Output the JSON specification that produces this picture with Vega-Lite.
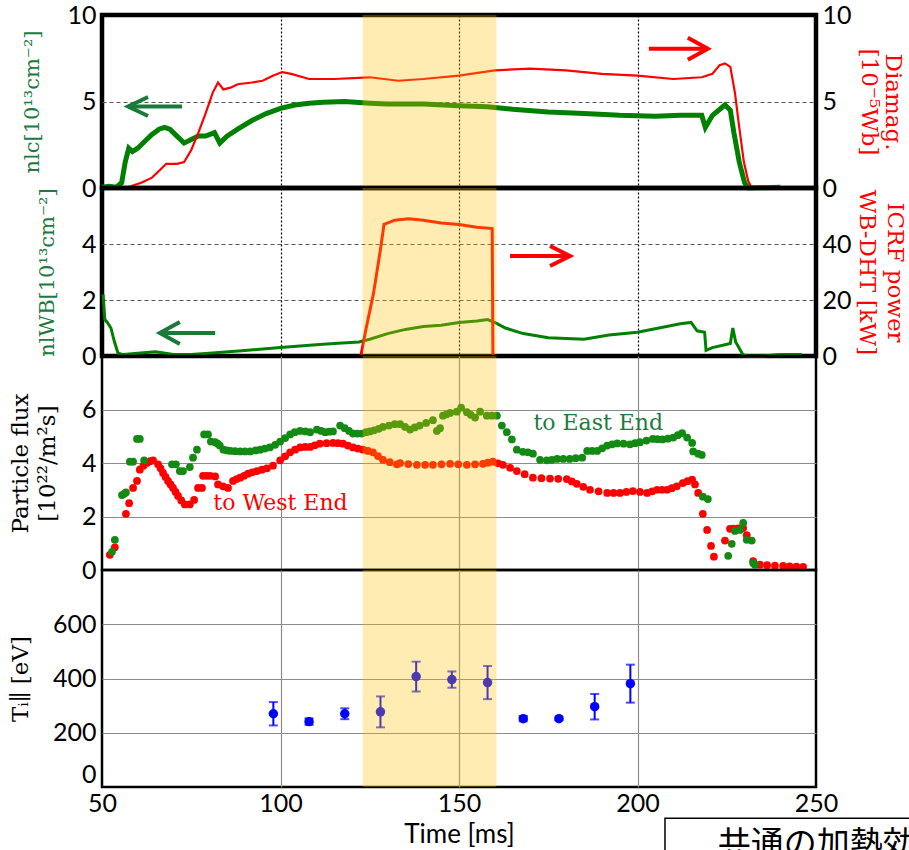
{
  "$schema": "https://vega.github.io/schema/vega-lite/v6.json",
  "padding": {"left": 8, "top": 0, "right": 0, "bottom": 0},
  "spacing": 0,
  "bounds": "flush",
  "resolve": {"scale": {"color": "independent", "shape": "independent"}},
  "config": {
    "font": "Lato",
    "view": {"stroke": null},
    "axis": {"labelFont": "Lato", "labelFontSize": 25, "labelColor": "black", "titleFont": "DejaVu Serif", "titleFontSize": 23, "titleFontWeight": "normal", "titleColor": "black", "ticks": false, "domain": false, "labelPadding": 6}
  },
  "datasets": {
    "nlc": [
      {"t":50,"v":0.05},{"t":52,"v":0.1},{"t":54,"v":0.05},{"t":55.5,"v":0.3},{"t":56.5,"v":1.5},{"t":57.5,"v":2.3},{"t":58.5,"v":2.1},{"t":60,"v":2.3},{"t":62,"v":2.7},{"t":64,"v":3.1},{"t":66,"v":3.4},{"t":67.5,"v":3.5},{"t":69,"v":3.4},{"t":71,"v":3.0},{"t":73,"v":2.6},{"t":75,"v":2.8},{"t":77,"v":3.0},{"t":79,"v":3.0},{"t":81.5,"v":3.2},{"t":83,"v":2.6},{"t":85,"v":3.0},{"t":88,"v":3.4},{"t":92,"v":3.9},{"t":96,"v":4.3},{"t":100,"v":4.6},{"t":104,"v":4.8},{"t":108,"v":4.9},{"t":112,"v":4.95},{"t":118,"v":5.0},{"t":125,"v":4.9},{"t":130,"v":4.85},{"t":140,"v":4.85},{"t":150,"v":4.75},{"t":158,"v":4.7},{"t":165,"v":4.55},{"t":175,"v":4.4},{"t":185,"v":4.3},{"t":195,"v":4.2},{"t":205,"v":4.15},{"t":212,"v":4.2},{"t":218,"v":4.2},{"t":219,"v":3.5},{"t":221,"v":4.2},{"t":224.5,"v":4.8},{"t":226,"v":4.5},{"t":227,"v":3.2},{"t":228.5,"v":1.5},{"t":230,"v":0.3},{"t":231,"v":0},{"t":240,"v":0.05}
    ],
    "diamag": [
      {"t":50,"v":0},{"t":56,"v":0},{"t":58,"v":0.1},{"t":61,"v":0.3},{"t":64,"v":0.6},{"t":66,"v":1.0},{"t":68,"v":1.4},{"t":71,"v":1.4},{"t":73,"v":1.5},{"t":75,"v":2.2},{"t":77,"v":3.2},{"t":79,"v":4.3},{"t":81,"v":5.5},{"t":82.5,"v":6.1},{"t":84,"v":5.7},{"t":86,"v":5.8},{"t":88,"v":6.0},{"t":92,"v":6.1},{"t":95,"v":6.2},{"t":98,"v":6.5},{"t":100.5,"v":6.7},{"t":103,"v":6.6},{"t":108,"v":6.3},{"t":115,"v":6.3},{"t":125,"v":6.4},{"t":133,"v":6.2},{"t":140,"v":6.3},{"t":150,"v":6.5},{"t":160,"v":6.8},{"t":170,"v":6.9},{"t":180,"v":6.8},{"t":190,"v":6.6},{"t":200,"v":6.5},{"t":210,"v":6.3},{"t":218,"v":6.4},{"t":221,"v":6.6},{"t":223,"v":7.1},{"t":224.5,"v":7.2},{"t":226,"v":7.0},{"t":227.3,"v":5.5},{"t":228.5,"v":3.5},{"t":229.8,"v":1.5},{"t":231,"v":0.4},{"t":232,"v":0},{"t":240,"v":0}
    ],
    "nlwb": [
      {"t":50.3,"v":2.2},{"t":50.8,"v":1.3},{"t":51.5,"v":1.2},{"t":52.5,"v":1.0},{"t":53.5,"v":0.5},{"t":54.5,"v":0.1},{"t":56,"v":0.05},{"t":60,"v":0.1},{"t":65,"v":0.15},{"t":70,"v":0.05},{"t":75,"v":0.05},{"t":80,"v":0.1},{"t":90,"v":0.2},{"t":100,"v":0.3},{"t":110,"v":0.4},{"t":115,"v":0.45},{"t":122,"v":0.5},{"t":125,"v":0.6},{"t":130,"v":0.8},{"t":135,"v":0.95},{"t":140,"v":1.05},{"t":145,"v":1.1},{"t":150,"v":1.2},{"t":155,"v":1.25},{"t":158,"v":1.3},{"t":160,"v":1.2},{"t":163,"v":1.0},{"t":168,"v":0.8},{"t":175,"v":0.65},{"t":185,"v":0.6},{"t":192,"v":0.75},{"t":200,"v":0.85},{"t":206,"v":1.0},{"t":212,"v":1.15},{"t":215,"v":1.2},{"t":216.7,"v":0.9},{"t":218.8,"v":0.85},{"t":219.2,"v":0.2},{"t":221,"v":0.3},{"t":226,"v":0.45},{"t":226.7,"v":1.0},{"t":227.5,"v":0.5},{"t":229.5,"v":0.05},{"t":230.5,"v":0},{"t":235,"v":0},{"t":240,"v":0.05},{"t":246,"v":0.05}
    ],
    "icrf": [
      {"t":122.5,"p":0},{"t":124,"p":10},{"t":126,"p":22},{"t":128,"p":38},{"t":129,"p":47},{"t":132,"p":48.5},{"t":136,"p":49},{"t":140,"p":48.5},{"t":145,"p":47.5},{"t":150,"p":47},{"t":155,"p":46},{"t":159.3,"p":45.5},{"t":159.5,"p":0}
    ],
    "arrows1": [
      {"x1":57.3,"x2":72.4,"y":4.71,"dir":"left"},
      {"x1":219.7,"x2":203.2,"y":8.05,"dir":"right"}
    ],
    "arrows2": [
      {"x1":66.2,"x2":81.7,"y":0.82,"dir":"left"},
      {"x1":181.1,"x2":164.3,"y":3.57,"dir":"right"}
    ],
    "east": [
      {"t":52.8,"v":0.68},{"t":53.6,"v":1.13},{"t":55.6,"v":2.8},{"t":56.2,"v":2.85},{"t":56.7,"v":2.9},{"t":57.8,"v":4.05},{"t":58.7,"v":4.05},{"t":59.8,"v":4.9},{"t":60.6,"v":4.9},{"t":61.8,"v":4.1},{"t":69.6,"v":3.95},{"t":70.7,"v":3.95},{"t":71.8,"v":3.7},{"t":72.7,"v":3.7},{"t":74.6,"v":3.85},{"t":75.5,"v":4.2},{"t":76.6,"v":4.5},{"t":78.6,"v":5.07},{"t":79.7,"v":5.07},{"t":80.5,"v":4.8},{"t":81.7,"v":4.78},{"t":82.4,"v":4.72},{"t":83,"v":4.65},{"t":84,"v":4.5},{"t":85,"v":4.47},{"t":86,"v":4.45},{"t":87.3,"v":4.44},{"t":88.7,"v":4.43},{"t":90,"v":4.43},{"t":91.5,"v":4.43},{"t":93,"v":4.47},{"t":94.3,"v":4.5},{"t":95.6,"v":4.54},{"t":97,"v":4.58},{"t":98.5,"v":4.68},{"t":99.9,"v":4.8},{"t":101.3,"v":4.93},{"t":102.7,"v":5.07},{"t":104,"v":5.15},{"t":105.5,"v":5.2},{"t":107,"v":5.18},{"t":108.3,"v":5.15},{"t":110.2,"v":5.25},{"t":111.4,"v":5.2},{"t":112.5,"v":5.15},{"t":113.6,"v":5.17},{"t":114.7,"v":5.18},{"t":116.7,"v":5.4},{"t":118,"v":5.3},{"t":119.2,"v":5.2},{"t":120.3,"v":5.1},{"t":121.5,"v":5.1},{"t":122.8,"v":5.1},{"t":124,"v":5.15},{"t":125,"v":5.18},{"t":126.2,"v":5.22},{"t":127.5,"v":5.28},{"t":128.7,"v":5.35},{"t":130.4,"v":5.4},{"t":132,"v":5.45},{"t":133.5,"v":5.45},{"t":134.9,"v":5.35},{"t":136.3,"v":5.25},{"t":137.6,"v":5.33},{"t":139,"v":5.4},{"t":140.8,"v":5.5},{"t":142.7,"v":5.6},{"t":143.8,"v":5.2},{"t":144.7,"v":5.3},{"t":145.5,"v":5.77},{"t":146.5,"v":5.82},{"t":147.5,"v":5.87},{"t":149.4,"v":5.92},{"t":150.6,"v":6.07},{"t":152.2,"v":5.9},{"t":153.3,"v":5.8},{"t":154.5,"v":5.7},{"t":155.9,"v":5.92},{"t":157.8,"v":5.77},{"t":159.2,"v":5.77},{"t":160.6,"v":5.77},{"t":162,"v":5.4},{"t":163.4,"v":5.15},{"t":164.8,"v":4.88},{"t":166.2,"v":4.5},{"t":167.9,"v":4.42},{"t":169.3,"v":4.4},{"t":170.7,"v":4.35},{"t":172.7,"v":4.12},{"t":174.6,"v":4.1},{"t":176,"v":4.12},{"t":177.5,"v":4.15},{"t":179.2,"v":4.15},{"t":181,"v":4.15},{"t":182.7,"v":4.18},{"t":184.5,"v":4.2},{"t":185.9,"v":4.45},{"t":187.3,"v":4.45},{"t":188.7,"v":4.45},{"t":190.1,"v":4.55},{"t":191.5,"v":4.65},{"t":192.9,"v":4.7},{"t":194.3,"v":4.73},{"t":196.1,"v":4.72},{"t":197.9,"v":4.7},{"t":199.3,"v":4.74},{"t":200.7,"v":4.78},{"t":202.5,"v":4.84},{"t":204.3,"v":4.9},{"t":205.6,"v":4.89},{"t":207,"v":4.88},{"t":208.5,"v":4.91},{"t":210,"v":4.95},{"t":211.3,"v":5.04},{"t":212.5,"v":5.12},{"t":213.9,"v":4.95},{"t":215.3,"v":4.75},{"t":215.6,"v":4.43},{"t":217,"v":4.35},{"t":218,"v":4.3},{"t":218.3,"v":2.74},{"t":219.7,"v":2.65},{"t":225.4,"v":0.53},{"t":226.4,"v":0.98},{"t":227.3,"v":1.46},{"t":228.7,"v":1.5},{"t":229.6,"v":1.76},{"t":230.6,"v":1.13},{"t":232,"v":1.1},{"t":232.4,"v":0.26},{"t":232.9,"v":0.2}
    ],
    "west": [
      {"t":52.2,"v":0.57},{"t":53.6,"v":0.85},{"t":56.7,"v":2.1},{"t":57.6,"v":2.5},{"t":58.7,"v":3.07},{"t":59.8,"v":3.33},{"t":60.6,"v":3.75},{"t":61.6,"v":3.9},{"t":62.6,"v":4.0},{"t":63.5,"v":4.07},{"t":64.3,"v":4.1},{"t":65.7,"v":3.95},{"t":66.4,"v":3.8},{"t":67.1,"v":3.63},{"t":67.8,"v":3.48},{"t":68.5,"v":3.33},{"t":69.2,"v":3.2},{"t":69.9,"v":3.07},{"t":70.6,"v":2.92},{"t":71.3,"v":2.77},{"t":72.2,"v":2.6},{"t":73.2,"v":2.45},{"t":74.6,"v":2.45},{"t":75.8,"v":2.62},{"t":76.9,"v":3.07},{"t":78,"v":3.07},{"t":78.3,"v":3.52},{"t":79.3,"v":3.52},{"t":80.3,"v":3.52},{"t":81.7,"v":3.5},{"t":82.5,"v":3.2},{"t":83.9,"v":3.13},{"t":85.3,"v":3.07},{"t":86.7,"v":3.33},{"t":87.7,"v":3.4},{"t":88.7,"v":3.45},{"t":89.8,"v":3.52},{"t":90.9,"v":3.6},{"t":92.1,"v":3.65},{"t":93.4,"v":3.7},{"t":94.8,"v":3.75},{"t":96.2,"v":3.8},{"t":97.9,"v":3.9},{"t":99.9,"v":4.1},{"t":101.3,"v":4.25},{"t":102.7,"v":4.4},{"t":104.1,"v":4.5},{"t":105.5,"v":4.58},{"t":106.9,"v":4.6},{"t":108.3,"v":4.6},{"t":109.6,"v":4.66},{"t":111,"v":4.72},{"t":112.9,"v":4.74},{"t":114.7,"v":4.75},{"t":116.1,"v":4.74},{"t":117.5,"v":4.72},{"t":118.9,"v":4.65},{"t":120.3,"v":4.58},{"t":121.7,"v":4.54},{"t":123.1,"v":4.5},{"t":124.5,"v":4.45},{"t":125.9,"v":4.4},{"t":127.3,"v":4.26},{"t":128.7,"v":4.12},{"t":130.6,"v":4.03},{"t":132.6,"v":3.95},{"t":133.5,"v":4.0},{"t":135.8,"v":3.96},{"t":138.2,"v":3.93},{"t":140.5,"v":3.93},{"t":142.7,"v":3.93},{"t":145.1,"v":3.95},{"t":147.5,"v":3.97},{"t":149.8,"v":3.95},{"t":152.2,"v":3.93},{"t":154.5,"v":3.95},{"t":156.7,"v":3.97},{"t":158.1,"v":4.01},{"t":159.5,"v":4.05},{"t":160.9,"v":3.99},{"t":162.3,"v":3.93},{"t":164.3,"v":3.82},{"t":166.2,"v":3.7},{"t":168.4,"v":3.58},{"t":170.7,"v":3.45},{"t":173.1,"v":3.43},{"t":175.5,"v":3.42},{"t":177.8,"v":3.41},{"t":180.2,"v":3.4},{"t":181.6,"v":3.31},{"t":183,"v":3.22},{"t":184.8,"v":3.11},{"t":186.7,"v":3.0},{"t":189.1,"v":2.94},{"t":191.5,"v":2.88},{"t":193.3,"v":2.88},{"t":195.1,"v":2.88},{"t":196.9,"v":2.92},{"t":198.7,"v":2.95},{"t":200.7,"v":2.92},{"t":202.7,"v":2.88},{"t":204.1,"v":2.94},{"t":205.5,"v":3.0},{"t":206.9,"v":3.0},{"t":208.3,"v":3.0},{"t":209.6,"v":3.06},{"t":211,"v":3.13},{"t":212.7,"v":3.25},{"t":214,"v":3.32},{"t":215.3,"v":3.38},{"t":216.1,"v":3.2},{"t":217,"v":2.88},{"t":218.3,"v":2.1},{"t":219.5,"v":1.5},{"t":220.6,"v":0.9},{"t":221.4,"v":0.5},{"t":224.5,"v":1.1},{"t":225.9,"v":1.54},{"t":226.8,"v":1.55},{"t":228.2,"v":1.56},{"t":229.6,"v":1.57},{"t":230.6,"v":1.3},{"t":232.4,"v":0.33},{"t":234.3,"v":0.2},{"t":236.3,"v":0.18},{"t":238.5,"v":0.16},{"t":240.8,"v":0.15},{"t":242.6,"v":0.14},{"t":244.5,"v":0.13},{"t":246.4,"v":0.12}
    ],
    "flabels": [
      {"t":100,"v":2.5,"label":"to West End","end":"West"},
      {"t":189,"v":5.5,"label":"to East End","end":"East"}
    ],
    "ti": [
      {"t":98,"ti":270,"lo":227,"hi":313},
      {"t":108,"ti":241,"lo":229,"hi":253},
      {"t":118,"ti":270,"lo":250,"hi":290},
      {"t":128,"ti":277,"lo":220,"hi":334},
      {"t":138,"ti":407,"lo":352,"hi":462},
      {"t":148,"ti":396,"lo":366,"hi":426},
      {"t":158,"ti":385,"lo":324,"hi":446},
      {"t":168,"ti":252,"lo":242,"hi":262},
      {"t":178,"ti":252,"lo":247,"hi":257},
      {"t":188,"ti":296,"lo":249,"hi":343},
      {"t":198,"ti":381,"lo":311,"hi":451}
    ],
    "band": [{"start":123,"end":160.5}],
    "note": [{"x1":207.7,"x2":300,"y1":-115,"y2":-320,"tx":222.5,"ty":-154,"text":"共通の加熱効果"}]
  },
  "vconcat": [
    {
      "width": 714, "height": 173,
      "view": {"stroke": "black", "strokeWidth": 4.5},
      "resolve": {"scale": {"y": "independent"}},
      "layer": [
        {
          "data": {"name": "nlc"},
          "mark": {"type": "line", "color": "#008000", "strokeWidth": 5},
          "encoding": {
            "x": {"field": "t", "type": "quantitative", "scale": {"domain": [50, 250], "nice": false},
              "axis": {"values": [100, 150, 200], "labels": false, "title": null, "grid": true, "gridColor": "black", "gridDash": [2, 2], "gridWidth": 1.2, "maxExtent": 0, "minExtent": 0}},
            "y": {"field": "v", "type": "quantitative", "scale": {"domain": [0, 10], "nice": false},
              "axis": {"values": [0, 5, 10], "title": "nlc[10¹³cm⁻²]", "titleFontSize": 21, "titleColor": "#207A40", "titlePadding": 24, "grid": true, "gridColor": "#555555", "gridDash": [4, 3], "gridWidth": 1,
                "gridOpacity": {"condition": {"test": "datum.value > 0 && datum.value < 10", "value": 1}, "value": 0}}}
          }
        },
        {
          "data": {"name": "diamag"},
          "mark": {"type": "line", "color": "#FF0000", "strokeWidth": 2.2},
          "encoding": {
            "x": {"field": "t", "type": "quantitative", "scale": {"domain": [50, 250], "nice": false}},
            "y": {"field": "v", "type": "quantitative", "scale": {"domain": [0, 10], "nice": false},
              "axis": {"orient": "right", "values": [0, 5, 10], "title": ["Diamag.", "[10⁻⁵Wb]"], "titleColor": "#FF0000", "titleAngle": 90, "titlePadding": 5, "titleLineHeight": 24, "grid": false}}
          }
        },
        {
          "data": {"name": "arrows1"},
          "mark": {"type": "rule", "strokeWidth": 4},
          "encoding": {
            "x": {"field": "x1", "type": "quantitative", "scale": {"domain": [50, 250], "nice": false}},
            "x2": {"field": "x2"},
            "y": {"field": "y", "type": "quantitative", "scale": {"domain": [0, 10], "nice": false}, "axis": null},
            "color": {"field": "dir", "type": "nominal", "scale": {"domain": ["left", "right"], "range": ["#1A7A3A", "#FF0000"]}, "legend": null}
          }
        },
        {
          "data": {"name": "arrows1"},
          "mark": {"type": "point", "filled": false, "strokeWidth": 4, "size": 400, "opacity": 1},
          "encoding": {
            "x": {"field": "x1", "type": "quantitative", "scale": {"domain": [50, 250], "nice": false}},
            "y": {"field": "y", "type": "quantitative", "scale": {"domain": [0, 10], "nice": false}, "axis": null},
            "color": {"field": "dir", "type": "nominal", "scale": {"domain": ["left", "right"], "range": ["#1A7A3A", "#FF0000"]}, "legend": null},
            "shape": {"field": "dir", "type": "nominal", "scale": {"domain": ["left", "right"], "range": ["M2,-0.95L0,0L2,0.95", "M-2,-1.1L0,0L-2,1.1"]}, "legend": null}
          }
        },
        {
          "data": {"name": "band"},
          "mark": {"type": "rect", "color": "#FFC000", "opacity": 0.3},
          "encoding": {
            "x": {"field": "start", "type": "quantitative", "scale": {"domain": [50, 250], "nice": false}},
            "x2": {"field": "end"}
          }
        }
      ]
    },
    {
      "width": 714, "height": 168,
      "view": {"stroke": "black", "strokeWidth": 4.5},
      "resolve": {"scale": {"y": "independent"}},
      "layer": [
        {
          "data": {"name": "nlwb"},
          "mark": {"type": "line", "color": "#008000", "strokeWidth": 3},
          "encoding": {
            "x": {"field": "t", "type": "quantitative", "scale": {"domain": [50, 250], "nice": false},
              "axis": {"values": [100, 150, 200], "labels": false, "title": null, "grid": true, "gridColor": "black", "gridDash": [2, 2], "gridWidth": 1.2, "maxExtent": 0, "minExtent": 0}},
            "y": {"field": "v", "type": "quantitative", "scale": {"domain": [0, 6], "nice": false},
              "axis": {"values": [0, 2, 4], "title": "nlWB[10¹³cm⁻²]", "titleFontSize": 21, "titleColor": "#207A40", "titlePadding": 24, "grid": true, "gridColor": "#555555", "gridDash": [4, 3], "gridWidth": 1,
                "gridOpacity": {"condition": {"test": "datum.value > 0", "value": 1}, "value": 0}}}
          }
        },
        {
          "data": {"name": "icrf"},
          "mark": {"type": "line", "color": "#FF0000", "strokeWidth": 3},
          "encoding": {
            "x": {"field": "t", "type": "quantitative", "scale": {"domain": [50, 250], "nice": false}},
            "y": {"field": "p", "type": "quantitative", "scale": {"domain": [0, 60], "nice": false},
              "axis": {"orient": "right", "values": [0, 20, 40], "title": ["ICRF power", "WB-DHT [kW]"], "titleColor": "#FF0000", "titleAngle": 90, "titlePadding": 3, "titleLineHeight": 28, "grid": false}}
          }
        },
        {
          "data": {"name": "arrows2"},
          "mark": {"type": "rule", "strokeWidth": 4},
          "encoding": {
            "x": {"field": "x1", "type": "quantitative", "scale": {"domain": [50, 250], "nice": false}},
            "x2": {"field": "x2"},
            "y": {"field": "y", "type": "quantitative", "scale": {"domain": [0, 6], "nice": false}, "axis": null},
            "color": {"field": "dir", "type": "nominal", "scale": {"domain": ["left", "right"], "range": ["#1A7A3A", "#FF0000"]}, "legend": null}
          }
        },
        {
          "data": {"name": "arrows2"},
          "mark": {"type": "point", "filled": false, "strokeWidth": 4, "size": 400, "opacity": 1},
          "encoding": {
            "x": {"field": "x1", "type": "quantitative", "scale": {"domain": [50, 250], "nice": false}},
            "y": {"field": "y", "type": "quantitative", "scale": {"domain": [0, 6], "nice": false}, "axis": null},
            "color": {"field": "dir", "type": "nominal", "scale": {"domain": ["left", "right"], "range": ["#1A7A3A", "#FF0000"]}, "legend": null},
            "shape": {"field": "dir", "type": "nominal", "scale": {"domain": ["left", "right"], "range": ["M2,-1.1L0,0L2,1.1", "M-2,-1L0,0L-2,1"]}, "legend": null}
          }
        },
        {
          "data": {"name": "band"},
          "mark": {"type": "rect", "color": "#FFC000", "opacity": 0.3},
          "encoding": {
            "x": {"field": "start", "type": "quantitative", "scale": {"domain": [50, 250], "nice": false}},
            "x2": {"field": "end"}
          }
        }
      ]
    },
    {
      "width": 714, "height": 214,
      "view": {"stroke": "black", "strokeWidth": 2.5},
      "layer": [
        {
          "data": {"name": "west"},
          "mark": {"type": "circle", "color": "#FF0000", "size": 60, "opacity": 1},
          "encoding": {
            "x": {"field": "t", "type": "quantitative", "scale": {"domain": [50, 250], "nice": false},
              "axis": {"values": [100, 150, 200], "labels": false, "title": null, "grid": true, "gridColor": "#8C8C8C", "gridWidth": 1.2, "maxExtent": 0, "minExtent": 0}},
            "y": {"field": "v", "type": "quantitative", "scale": {"domain": [0, 8], "nice": false},
              "axis": {"values": [0, 2, 4, 6], "title": ["Particle flux", "[10²²/m²s]"], "titleLineHeight": 27, "titlePadding": 22, "grid": true, "gridColor": "#8C8C8C", "gridWidth": 1.2,
                "gridOpacity": {"condition": {"test": "datum.value > 0", "value": 1}, "value": 0}}}
          }
        },
        {
          "data": {"name": "east"},
          "mark": {"type": "circle", "color": "#138A13", "size": 60, "opacity": 1},
          "encoding": {
            "x": {"field": "t", "type": "quantitative", "scale": {"domain": [50, 250], "nice": false}},
            "y": {"field": "v", "type": "quantitative", "scale": {"domain": [0, 8], "nice": false}}
          }
        },
        {
          "data": {"name": "flabels"},
          "mark": {"type": "text", "font": "DejaVu Serif", "fontSize": 22, "align": "center", "baseline": "middle"},
          "encoding": {
            "x": {"field": "t", "type": "quantitative", "scale": {"domain": [50, 250], "nice": false}},
            "y": {"field": "v", "type": "quantitative", "scale": {"domain": [0, 8], "nice": false}},
            "text": {"field": "label"},
            "color": {"field": "end", "type": "nominal", "scale": {"domain": ["West", "East"], "range": ["#FF0000", "#1E7B3E"]}, "legend": null}
          }
        },
        {
          "data": {"name": "band"},
          "mark": {"type": "rect", "color": "#FFC000", "opacity": 0.3},
          "encoding": {
            "x": {"field": "start", "type": "quantitative", "scale": {"domain": [50, 250], "nice": false}},
            "x2": {"field": "end"}
          }
        }
      ]
    },
    {
      "width": 714, "height": 217,
      "view": {"stroke": "black", "strokeWidth": 2.5},
      "layer": [
        {
          "data": {"name": "ti"},
          "mark": {"type": "rule", "color": "#0000FF", "strokeWidth": 2},
          "encoding": {
            "x": {"field": "t", "type": "quantitative", "scale": {"domain": [50, 250], "nice": false},
              "axis": {"values": [50, 100, 150, 200, 250], "labelFlush": false, "title": "Time [ms]", "titleFont": "Lato", "titleFontSize": 26, "titlePadding": 5, "labelPadding": 4, "grid": true, "gridColor": "#8C8C8C", "gridWidth": 1.2,
                "gridOpacity": {"condition": {"test": "datum.value > 50 && datum.value < 250", "value": 1}, "value": 0}}},
            "y": {"field": "lo", "type": "quantitative", "scale": {"domain": [0, 800], "nice": false},
              "axis": {"values": [0, 200, 400, 600], "labelFlush": true, "title": "Tᵢ∥ [eV]", "titlePadding": 20, "grid": true, "gridColor": "#8C8C8C", "gridWidth": 1.2,
                "gridOpacity": {"condition": {"test": "datum.value > 0", "value": 1}, "value": 0}}},
            "y2": {"field": "hi"}
          }
        },
        {
          "data": {"name": "ti"},
          "mark": {"type": "tick", "color": "#0000FF", "orient": "horizontal", "size": 9, "thickness": 2},
          "encoding": {
            "x": {"field": "t", "type": "quantitative", "scale": {"domain": [50, 250], "nice": false}},
            "y": {"field": "lo", "type": "quantitative", "scale": {"domain": [0, 800], "nice": false}}
          }
        },
        {
          "data": {"name": "ti"},
          "mark": {"type": "tick", "color": "#0000FF", "orient": "horizontal", "size": 9, "thickness": 2},
          "encoding": {
            "x": {"field": "t", "type": "quantitative", "scale": {"domain": [50, 250], "nice": false}},
            "y": {"field": "hi", "type": "quantitative", "scale": {"domain": [0, 800], "nice": false}}
          }
        },
        {
          "data": {"name": "ti"},
          "mark": {"type": "circle", "color": "#0000FF", "size": 90, "opacity": 1},
          "encoding": {
            "x": {"field": "t", "type": "quantitative", "scale": {"domain": [50, 250], "nice": false}},
            "y": {"field": "ti", "type": "quantitative", "scale": {"domain": [0, 800], "nice": false}}
          }
        },
        {
          "data": {"name": "band"},
          "mark": {"type": "rect", "color": "#FFC000", "opacity": 0.3},
          "encoding": {
            "x": {"field": "start", "type": "quantitative", "scale": {"domain": [50, 250], "nice": false}},
            "x2": {"field": "end"}
          }
        },
        {
          "data": {"name": "note"},
          "mark": {"type": "rect", "fill": "white", "stroke": "black", "strokeWidth": 1.5, "clip": false},
          "encoding": {
            "x": {"field": "x1", "type": "quantitative", "scale": {"domain": [50, 250], "nice": false}},
            "x2": {"field": "x2"},
            "y": {"field": "y1", "type": "quantitative", "scale": {"domain": [0, 800], "nice": false}},
            "y2": {"field": "y2"}
          }
        },
        {
          "data": {"name": "note"},
          "mark": {"type": "text", "font": "Noto Sans CJK JP", "fontSize": 33, "align": "left", "baseline": "top", "color": "black"},
          "encoding": {
            "x": {"field": "tx", "type": "quantitative", "scale": {"domain": [50, 250], "nice": false}},
            "y": {"field": "ty", "type": "quantitative", "scale": {"domain": [0, 800], "nice": false}},
            "text": {"field": "text"}
          }
        }
      ]
    }
  ]
}
